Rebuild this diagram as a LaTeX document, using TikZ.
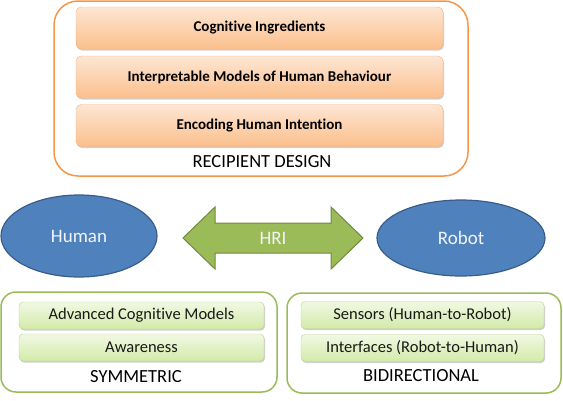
\documentclass[tikz,border=0pt]{standalone}
\usepackage{fontspec}
\setmainfont{Carlito}[Ligatures=NoCommon]
\usepackage{xcolor}
\usetikzlibrary{shapes.geometric,shadows}

\definecolor{rdline}{HTML}{F79646}
\definecolor{rdtop}{HTML}{FDE6D4}
\definecolor{rdbot}{HTML}{FBBF8C}
\definecolor{rdedge}{HTML}{F7B27A}
\definecolor{agent}{HTML}{4F81BD}
\definecolor{agentline}{HTML}{385D8A}
\definecolor{hrifill}{HTML}{9BBB59}
\definecolor{hriline}{HTML}{71893F}
\definecolor{grline}{HTML}{9BBB59}
\definecolor{grtop}{HTML}{F1F8E3}
\definecolor{grbot}{HTML}{D3EAA9}
\definecolor{gredge}{HTML}{B9D58E}

\begin{document}
\begin{tikzpicture}[x=1pt,y=-1pt]

\tikzset{frame/.style = {draw,rounded corners=#1,line width=1.5pt,fill=white,inner sep=0pt}}
\tikzset{rdbox/.style = {draw=rdedge,rounded corners=5pt,top color=rdtop,bottom color=rdbot,
  minimum width=367pt,minimum height=42pt,inner sep=0pt,font=\fontsize{15}{18}\selectfont\bfseries,
  drop shadow={shadow xshift=1pt,shadow yshift=-1.5pt,opacity=0.3,fill=black!60}}}
\tikzset{grbox/.style = {draw=gredge,rounded corners=4pt,top color=grtop,bottom color=grbot,
  minimum height=27pt,inner sep=0pt,font=\fontsize{16.5}{19}\selectfont,text=black!90,
  drop shadow={shadow xshift=1pt,shadow yshift=-1.5pt,opacity=0.3,fill=black!60}}}
\tikzset{agent/.style = {shape=ellipse,draw=agentline,line width=1.2pt,fill=agent,inner sep=0pt,
  text=white!92!agent,font=\fontsize{19}{22}\selectfont}}
\tikzset{caption/.style = {inner sep=0pt,font=\fontsize{18.5}{21}\selectfont}}

\useasboundingbox (0,0) rectangle (563,400);

%recipient design
\node[frame=24pt,draw=rdline,minimum width=414pt,minimum height=175pt] (rd) at (261,88.5) {};
\node[rdbox] (ingr) at (259.5,28) {Cognitive Ingredients};
\node[rdbox] (models) at (259.5,77) {Interpretable Models of Human Behaviour};
\node[rdbox] (intent) at (259.5,125.5) {Encoding Human Intention};
\node[caption] (rdlabel) at (262,162) {RECIPIENT DESIGN};

%agents
\node[agent,minimum width=156pt,minimum height=82pt] (human) at (79,236) {Human};
\node[agent,minimum width=168pt,minimum height=76pt] (robot) at (461,238) {Robot};

%interaction arrow
\draw[fill=hrifill,draw=hriline,line width=1pt,line join=miter]
  (183,238) -- (215,207) -- (215,223) -- (331,223) -- (331,207) -- (363,238)
  -- (331,269) -- (331,253) -- (215,253) -- (215,269) -- cycle;
\node[agent,draw=none,fill=none] (hri) at (273,238) {HRI};

%symmetric
\node[frame=15pt,draw=grline,minimum width=276pt,minimum height=100pt] (sym) at (139,342) {};
\node[grbox,minimum width=245pt] (cogm) at (141.5,315.5) {Advanced Cognitive Models};
\node[grbox,minimum width=245pt] (aware) at (141.5,347.5) {Awareness};
\node[caption] (symlabel) at (136,377) {SYMMETRIC};

%bidirectional
\node[frame=15pt,draw=grline,minimum width=274pt,minimum height=100pt] (bidir) at (424,343) {};
\node[grbox,minimum width=243pt] (sensors) at (422.5,315) {Sensors (Human-to-Robot)};
\node[grbox,minimum width=243pt] (iface) at (422.5,348) {Interfaces (Robot-to-Human)};
\node[caption] (bilabel) at (421,376) {BIDIRECTIONAL};
\end{tikzpicture}
\end{document}
